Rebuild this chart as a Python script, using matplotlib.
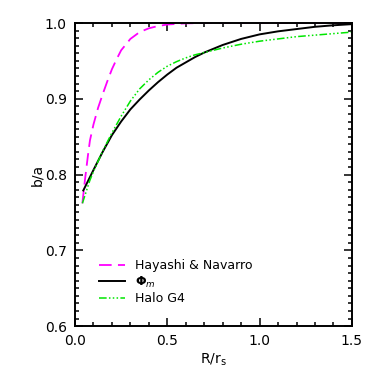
import numpy as np
from matplotlib import pyplot as plt

# values
r_hn = [0.04, 0.054, 0.07, 0.081, 0.1, 0.125, 0.15, 0.175, 0.2, 0.225, 0.25, 0.3, 0.35, 0.4, 0.45, 0.5, 0.6, 0.7, 1.0, 1.5]
ba_hn = [0.762, 0.793, 0.825, 0.845, 0.866, 0.888, 0.906, 0.923, 0.939, 0.952, 0.964, 0.979, 0.988, 0.993, 0.996, 0.998, 0.9995, 1.0, 1.0, 1.0]

r_phi = [0.045, 0.1, 0.15, 0.2, 0.25, 0.3, 0.35, 0.4, 0.45, 0.5, 0.55, 0.6, 0.65, 0.7, 0.8, 0.9, 1.0, 1.1, 1.2, 1.3, 1.4, 1.5]
ba_phi = [0.779, 0.806, 0.830, 0.852, 0.870, 0.886, 0.899, 0.911, 0.922, 0.932, 0.941, 0.948, 0.955, 0.961, 0.971, 0.979, 0.985, 0.989, 0.992, 0.995, 0.997, 0.9985]

r_g4 = [0.04, 0.08, 0.1, 0.15, 0.2, 0.25, 0.3, 0.35, 0.4, 0.45, 0.5, 0.55, 0.6, 0.65, 0.7, 0.8, 0.9, 1.0, 1.1, 1.2, 1.3, 1.4, 1.5]
ba_g4 = [0.762, 0.792, 0.804, 0.831, 0.855, 0.877, 0.897, 0.913, 0.925, 0.935, 0.943, 0.949, 0.954, 0.958, 0.961, 0.967, 0.972, 0.976, 0.979, 0.982, 0.984, 0.986, 0.988]

fig = plt.figure(figsize=(3.74, 3.74), dpi=100)
ax = fig.add_axes([0.2005, 0.128, 0.7405, 0.8105])

ax.plot(r_hn, ba_hn, color='#ff00ff', lw=1.3, dashes=(7, 3.5), label='Hayashi & Navarro')
ax.plot(r_phi, ba_phi, color='black', lw=1.4, label=r'$\mathbf{\Phi}_m$')
ax.plot(r_g4, ba_g4, color='#00e600', lw=1.1, dashes=(5, 1.5, 1, 1.5, 1, 1.5, 1, 1.5), label='Halo G4')

ax.set_xlim(0, 1.5)
ax.set_ylim(0.6, 1.0)
ax.set_xticks([0.0, 0.5, 1.0, 1.5])
ax.set_yticks([0.6, 0.7, 0.8, 0.9, 1.0])
ax.set_xticks(np.arange(0, 1.501, 0.1), minor=True)
ax.set_yticks(np.arange(0.6, 1.0001, 0.01), minor=True)
ax.set_xticklabels(['0.0', '0.5', '1.0', '1.5'])
ax.set_yticklabels(['0.6', '0.7', '0.8', '0.9', '1.0'])
ax.tick_params(which='both', direction='in', top=True, right=True, labelsize=10, width=1.1)
ax.tick_params(which='major', length=6, pad=6)
ax.tick_params(which='minor', length=3)
for s in ax.spines.values():
    s.set_linewidth(1.4)

ax.set_xlabel(r'R/r$_\mathrm{s}$', fontsize=10, labelpad=2)
ax.set_ylabel('b/a', fontsize=10, labelpad=0)

ax.legend(loc='upper left', bbox_to_anchor=(0.068, 0.237), frameon=False, fontsize=9,
          handlelength=2.1, handletextpad=0.8, labelspacing=0.2, borderaxespad=0)

fig.savefig('out.png', dpi=100)
